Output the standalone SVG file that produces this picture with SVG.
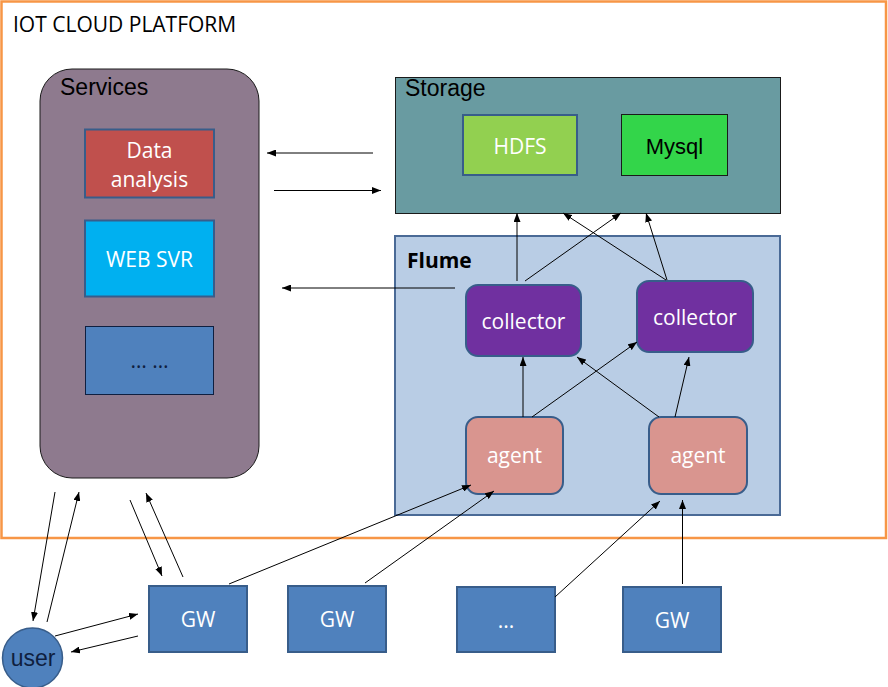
<svg xmlns="http://www.w3.org/2000/svg" width="888" height="687" viewBox="0 0 888 687">
<style>
.cal{font-family:"Open Sans","Lato","Liberation Sans",sans-serif;font-size:21px}
.ar{font-family:"Liberation Sans",Arial,sans-serif;font-size:23px}
.w{fill:#ffffff}
.k{fill:#000000}
.n{fill:#0F1F40}
.node{stroke:#385D8A;stroke-width:2}
.conn line{stroke:#000000;stroke-width:1;marker-end:url(#ah)}
.plain{stroke:#000000;stroke-width:1;fill:none}
</style>
<defs>
<marker id="ah" viewBox="0 0 9 7" refX="9" refY="3.5" markerWidth="9" markerHeight="7" markerUnits="userSpaceOnUse" orient="auto">
<path d="M0,0 L9,3.5 L0,7 z" fill="#000000"/>
</marker>
</defs>
<rect width="888" height="687" fill="#ffffff"/>

<g id="platform">
<rect x="1.5" y="1.5" width="884.5" height="536.5" fill="#ffffff" stroke="#F79646" stroke-width="2.5"/>
<text class="cal k" x="13" y="32">IOT CLOUD PLATFORM</text>
</g>

<g id="services">
<rect x="40" y="69" width="219" height="409" rx="32" ry="32" fill="#8E7A8E" stroke="#1a1a1a" stroke-width="1"/>
<text class="ar k" x="60" y="95">Services</text>
</g>
<g id="data-analysis">
<rect class="node" x="85" y="129.5" width="129" height="68" fill="#C0504D"/>
<text class="cal w" x="149.5" y="158" text-anchor="middle">Data</text>
<text class="cal w" x="149.5" y="187" text-anchor="middle">analysis</text>
</g>
<g id="web-svr">
<rect class="node" x="85" y="220.5" width="129" height="76" fill="#00B0F0"/>
<text class="cal w" x="149.5" y="267" text-anchor="middle">WEB SVR</text>
</g>
<g id="services-more">
<rect x="85.5" y="326.5" width="128" height="68" fill="#4F81BD" stroke="#0F1F40" stroke-width="1"/>
<text class="cal n" x="149.5" y="368" text-anchor="middle">… …</text>
</g>

<g id="storage">
<rect x="395.5" y="77.5" width="385" height="136" fill="#699BA1" stroke="#1a1a1a" stroke-width="1"/>
<text class="ar k" x="405" y="96">Storage</text>
</g>
<g id="hdfs">
<rect class="node" x="463" y="115" width="114" height="60" fill="#92D050"/>
<text class="cal w" x="520" y="154" text-anchor="middle">HDFS</text>
</g>
<g id="mysql">
<rect x="621.5" y="114.5" width="106" height="61" fill="#33D54A" stroke="#1a1a1a" stroke-width="1"/>
<text class="ar k" x="674.5" y="154" text-anchor="middle" style="font-size:22px">Mysql</text>
</g>

<g id="flume">
<rect x="395" y="236" width="385" height="279" fill="#B9CDE5" stroke="#4A6A96" stroke-width="2"/>
<text class="cal k" x="407" y="268" font-weight="bold">Flume</text>
</g>
<g id="collector1">
<rect class="node" x="466" y="285" width="115" height="71" rx="12" ry="12" fill="#7030A0"/>
<text class="cal w" x="523.5" y="329" text-anchor="middle">collector</text>
</g>
<g id="collector2">
<rect class="node" x="637" y="281" width="116" height="71" rx="12" ry="12" fill="#7030A0"/>
<text class="cal w" x="695" y="325" text-anchor="middle">collector</text>
</g>
<g id="agent1">
<rect class="node" x="466" y="417" width="97" height="77" rx="12" ry="12" fill="#D9958F"/>
<text class="cal w" x="514.5" y="463" text-anchor="middle">agent</text>
</g>
<g id="agent2">
<rect class="node" x="649" y="417" width="98" height="77" rx="12" ry="12" fill="#D9958F"/>
<text class="cal w" x="698" y="463" text-anchor="middle">agent</text>
</g>

<g id="gw1">
<rect class="node" x="149" y="586" width="98" height="66" fill="#4F81BD"/>
<text class="cal w" x="198" y="627" text-anchor="middle">GW</text>
</g>
<g id="gw2">
<rect class="node" x="288" y="586" width="98" height="66" fill="#4F81BD"/>
<text class="cal w" x="337" y="627" text-anchor="middle">GW</text>
</g>
<g id="gw-more">
<rect class="node" x="457" y="587" width="98" height="65" fill="#4F81BD"/>
<text class="cal w" x="506" y="628" text-anchor="middle">...</text>
</g>
<g id="gw4">
<rect class="node" x="623" y="587" width="98" height="65" fill="#4F81BD"/>
<text class="cal w" x="672" y="628" text-anchor="middle">GW</text>
</g>

<g id="user">
<circle cx="32.5" cy="658" r="30" fill="#4F81BD" stroke="#385D8A" stroke-width="1.5"/>
<text class="ar n" x="33" y="666" text-anchor="middle">user</text>
</g>

<g id="connectors" class="conn">
<line x1="373" y1="153" x2="267" y2="153"/>
<line x1="274" y1="190.5" x2="381" y2="190.5"/>
<line x1="455" y1="288" x2="282" y2="288"/>
<line x1="517" y1="281" x2="517" y2="213"/>
<line x1="525" y1="281" x2="621" y2="213"/>
<line x1="666" y1="280" x2="563" y2="213"/>
<line x1="667" y1="280" x2="646" y2="213"/>
<line x1="523" y1="417" x2="523" y2="357"/>
<line x1="532" y1="417" x2="637" y2="342"/>
<line x1="659" y1="417" x2="577" y2="357"/>
<line x1="675" y1="417" x2="689" y2="357"/>
<line x1="229" y1="584" x2="471" y2="485"/>
<line x1="365" y1="583" x2="494" y2="491"/>
<line x1="555" y1="597" x2="660" y2="501"/>
<line x1="682.5" y1="584" x2="682.5" y2="500"/>
<line x1="55" y1="492" x2="33" y2="621"/>
<line x1="47" y1="622" x2="79" y2="492"/>
<line x1="130" y1="500" x2="162" y2="576"/>
<line x1="183" y1="577" x2="146" y2="493"/>
<line x1="55" y1="636" x2="138" y2="614"/>
<line x1="138" y1="636" x2="71" y2="652"/>
</g>
</svg>
